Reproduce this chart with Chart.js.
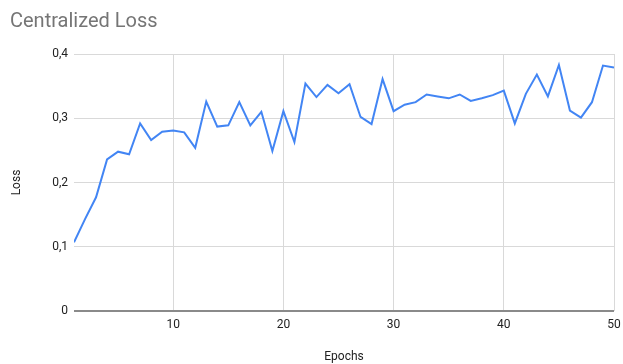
<!DOCTYPE html>
<html>
<head>
    <title>Centralized Loss</title>
    <script src="https://cdn.jsdelivr.net/npm/chart.js"></script>
    <style>
        html, body { margin: 0; padding: 0; background: #fff; }
        #wrap { width: 623px; height: 364px; }
    </style>
</head>
<body>
    <div id="wrap">
        <canvas id="lossChart"></canvas>
    </div>

    <script>
        const epochs = [];
        for (let e = 1; e <= 50; e++) epochs.push(e);

        const loss = [
            0.107, 0.143, 0.177, 0.236, 0.248, 0.244, 0.292, 0.266, 0.279, 0.281,
            0.278, 0.254, 0.326, 0.287, 0.289, 0.325, 0.289, 0.310, 0.249, 0.311,
            0.263, 0.354, 0.333, 0.352, 0.339, 0.353, 0.302, 0.291, 0.361, 0.311,
            0.321, 0.325, 0.337, 0.334, 0.331, 0.337, 0.327, 0.331, 0.336, 0.343,
            0.292, 0.338, 0.368, 0.334, 0.383, 0.312, 0.301, 0.325, 0.382, 0.379
        ];

        const xTicks = [10, 20, 30, 40, 50];
        const yTicks = [0, 0.1, 0.2, 0.3, 0.4];

        const points = epochs.map((e, i) => ({ x: e, y: loss[i] }));
        const font = { family: 'Roboto', size: 12 };

        const ctx = document.getElementById('lossChart').getContext('2d');
        new Chart(ctx, {
            type: 'line',
            data: {
                datasets: [{
                    label: 'Loss',
                    data: points,
                    borderColor: '#4285f4',
                    borderWidth: 2,
                    pointRadius: 0,
                    tension: 0,
                    fill: false
                }]
            },
            options: {
                responsive: true,
                maintainAspectRatio: false,
                animation: false,
                layout: { padding: { left: 10, right: 9, top: 0, bottom: 0 } },
                plugins: {
                    legend: { display: false },
                    tooltip: { enabled: false },
                    title: {
                        display: true,
                        text: 'Centralized Loss',
                        align: 'start',
                        color: '#757575',
                        font: { family: 'Roboto', size: 20, weight: 'normal' },
                        padding: { top: 10, bottom: 20 }
                    }
                },
                scales: {
                    x: {
                        type: 'linear',
                        min: 1,
                        max: 50,
                        afterBuildTicks: s => {
                            s.ticks = xTicks.map(v => ({ value: v }));
                        },
                        afterFit: s => {
                            s.height = 53;
                            s.paddingLeft = 0;
                            s.paddingRight = 0;
                        },
                        border: { display: false },
                        grid: { color: '#d9d9d9', drawTicks: false },
                        ticks: { color: '#222', font: font, padding: 7, maxRotation: 0 },
                        title: {
                            display: true,
                            text: 'Epochs',
                            color: '#222',
                            font: font,
                            padding: { top: 4, bottom: 0 }
                        }
                    },
                    y: {
                        min: 0,
                        max: 0.4,
                        afterBuildTicks: s => {
                            s.ticks = yTicks.map(v => ({ value: v }));
                        },
                        afterFit: s => { s.width = 64; },
                        border: { display: false },
                        grid: {
                            drawTicks: false,
                            color: c => c.tick && c.tick.value === 0 ? '#8a8a8a' : '#d9d9d9',
                            lineWidth: c => c.tick && c.tick.value === 0 ? 2 : 1
                        },
                        ticks: {
                            color: '#222',
                            font: font,
                            padding: 6,
                            callback: v => v === 0 ? '0' : v.toFixed(1).replace('.', ',')
                        },
                        title: {
                            display: true,
                            text: 'Loss',
                            color: '#222',
                            font: font,
                            padding: { top: 0, bottom: 3 }
                        }
                    }
                }
            }
        });
    </script>
</body>
</html>
